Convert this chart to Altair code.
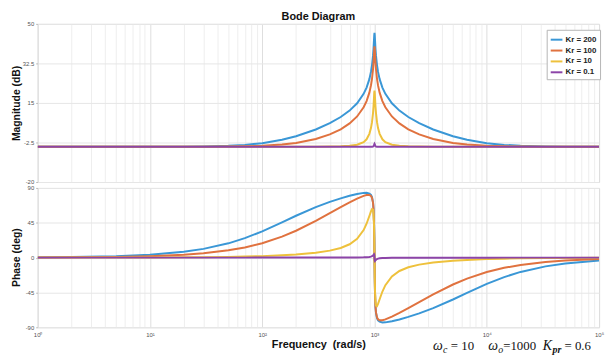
import altair as alt
import pandas as pd

# Frequencies (rad/s) sampled along the curves
freq = [1, 2, 5, 10, 20, 30, 50, 70, 100, 150, 200, 300, 400, 500, 600, 700,
        800, 850, 900, 930, 950, 970, 980, 990, 995, 1000,
        1005, 1010, 1020, 1031, 1053, 1075, 1111, 1176, 1250, 1429, 1667, 2000,
        2500, 3333, 5000, 6667, 10000, 14286, 20000, 33333, 50000, 100000]

series = ["Kr = 200", "Kr = 100", "Kr = 10", "Kr = 0.1"]
colors = ["#3a97d6", "#e0723f", "#eec13c", "#8c44a8"]

mag_200 = [-4.437, -4.436, -4.432, -4.418, -4.360, -4.265, -3.974, -3.569, -2.805, -1.314, 0.247, 3.241,
           6.031, 8.758, 11.614, 14.866, 19.014, 21.785, 25.543, 28.745, 31.681, 35.927, 38.986, 43.014,
           45.073, 46.047,
           45.073, 43.014, 38.986, 35.927, 31.681, 28.745, 25.543, 21.785, 19.014, 14.866, 11.614, 8.758,
           6.031, 3.241, 0.247, -1.314, -2.805, -3.569, -3.974, -4.265, -4.360, -4.418]
mag_100 = [-4.437, -4.437, -4.436, -4.432, -4.418, -4.393, -4.316, -4.202, -3.965, -3.417, -2.711, -0.969,
           1.065, 3.342, 5.929, 9.020, 13.077, 15.820, 19.561, 22.756, 25.689, 29.933, 32.992, 37.020,
           39.079, 40.052,
           39.079, 37.020, 32.992, 29.933, 25.689, 22.756, 19.561, 15.820, 13.077, 9.020, 5.929, 3.342,
           1.065, -0.969, -2.711, -3.417, -3.965, -4.202, -4.316, -4.393, -4.418, -4.432]
mag_10 = [-4.437, -4.437, -4.437, -4.437, -4.437, -4.437, -4.436, -4.434, -4.431, -4.424, -4.413, -4.378,
          -4.316, -4.203, -3.986, -3.523, -2.360, -1.086, 1.323, 3.880, 6.491, 10.513, 13.502, 17.488,
          19.536, 20.506,
          19.536, 17.488, 13.502, 10.513, 6.491, 3.880, 1.323, -1.086, -2.360, -3.523, -3.986, -4.203,
          -4.316, -4.378, -4.413, -4.424, -4.431, -4.434, -4.436, -4.437, -4.437, -4.437]
mag_01 = [-4.437, -4.437, -4.437, -4.437, -4.437, -4.437, -4.437, -4.437, -4.437, -4.437, -4.437, -4.437,
          -4.437, -4.437, -4.437, -4.436, -4.434, -4.431, -4.424, -4.408, -4.380, -4.287, -4.139, -3.719,
          -3.336, -3.098,
          -3.336, -3.719, -4.139, -4.287, -4.380, -4.408, -4.424, -4.431, -4.434, -4.436, -4.437, -4.437,
          -4.437, -4.437, -4.437, -4.437, -4.437, -4.437, -4.437, -4.437, -4.437, -4.437]

ph_200 = [0.382, 0.764, 1.909, 3.814, 7.595, 11.32, 18.47, 25.11, 33.92, 45.56, 54.09, 65.22,
          72.02, 76.59, 79.86, 82.21, 83.61, 83.70, 82.78, 80.92, 78.09, 71.31, 63.32, 44.97,
          26.54, 0.0,
          -26.54, -44.97, -63.32, -71.31, -78.09, -80.92, -82.78, -83.70, -83.61, -82.21, -79.86, -76.59,
          -72.02, -65.22, -54.09, -45.56, -33.92, -25.11, -18.47, -11.32, -7.595, -3.814]
ph_100 = [0.191, 0.382, 0.955, 1.909, 3.814, 5.715, 9.484, 13.19, 18.60, 27.06, 34.70, 47.50,
          57.40, 65.14, 71.28, 76.17, 79.81, 80.93, 80.99, 79.68, 77.22, 70.79, 62.98, 44.80,
          26.45, 0.0,
          -26.45, -44.80, -62.98, -70.79, -77.22, -79.68, -80.99, -80.93, -79.81, -76.17, -71.28, -65.14,
          -57.40, -47.50, -34.70, -27.06, -18.60, -13.19, -9.484, -5.715, -3.814, -1.909]
ph_10 = [0.019, 0.038, 0.095, 0.191, 0.382, 0.573, 0.957, 1.343, 1.928, 2.928, 3.971, 6.266,
         9.005, 12.49, 17.25, 24.30, 35.60, 43.76, 53.73, 59.81, 62.78, 62.05, 57.14, 41.88,
         25.00, 0.0,
         -25.00, -41.88, -57.14, -62.05, -62.78, -59.81, -53.73, -43.76, -35.60, -24.30, -17.25, -12.49,
         -9.005, -6.266, -3.971, -2.928, -1.928, -1.343, -0.957, -0.573, -0.382, -0.191]
ph_01 = [0.0002, 0.0004, 0.001, 0.002, 0.004, 0.006, 0.010, 0.013, 0.019, 0.029, 0.040, 0.063,
         0.091, 0.127, 0.179, 0.262, 0.423, 0.582, 0.895, 1.286, 1.781, 2.782, 3.671, 4.40,
         3.372, 0.0,
         -3.372, -4.40, -3.671, -2.782, -1.781, -1.286, -0.895, -0.582, -0.423, -0.262, -0.179, -0.127,
         -0.091, -0.063, -0.040, -0.029, -0.019, -0.013, -0.010, -0.006, -0.004, -0.002]

mags = [mag_200, mag_100, mag_10, mag_01]
phases = [ph_200, ph_100, ph_10, ph_01]

mag_ticks = [-20, -2.5, 15, 32.5, 50]
phase_ticks = [-90, -45, 0, 45, 90]
decades = [1, 10, 100, 1000, 10000, 100000]
x_grid = [k * 10 ** e for e in range(5) for k in range(1, 10)] + [100000]

rows = []
for s, m_list, p_list in zip(series, mags, phases):
    for f, m, p in zip(freq, m_list, p_list):
        rows.append({"freq": f, "mag": m, "phase": p, "series": s})
df = pd.DataFrame(rows)

FONT = "Liberation Sans"
is_decade = "indexof([1,10,100,1000,10000,100000], datum.value) >= 0"
grid_color = {"condition": {"test": is_decade, "value": "#dedede"}, "value": "#eeeeee"}
label_expr = ("datum.value == 1 ? '10⁰' : datum.value == 10 ? '10¹' : datum.value == 100 ? '10²' : "
              "datum.value == 1000 ? '10³' : datum.value == 10000 ? '10⁴' : datum.value == 100000 ? '10⁵' : ''")

xscale = alt.Scale(type="log", domain=[1, 100000])
color = alt.Color("series:N", scale=alt.Scale(domain=series, range=colors),
                  legend=alt.Legend(orient="none", legendX=515, legendY=6, title=None,
                                    fillColor="white", strokeColor="#b5b5b5", padding=3,
                                    symbolType="stroke", symbolStrokeWidth=2, symbolSize=140,
                                    labelFontSize=8, labelFontWeight="bold", labelFont=FONT,
                                    labelColor="#222", rowPadding=0, labelOffset=2))

yaxis_common = dict(labelFontSize=6, labelColor="#555", labelFont=FONT, tickSize=2, tickColor="#bbb",
                    domain=False, gridColor="#e6e6e6", titleFont=FONT, titleFontSize=10.5,
                    titleFontWeight="bold", titleColor="#111", titleX=-21, titleBaseline="middle",
                    labelPadding=2, labelExpr="'' + datum.value")

lines_top = alt.Chart(df).mark_line(strokeWidth=2, clip=True).encode(
    x=alt.X("freq:Q", scale=xscale,
            axis=alt.Axis(values=x_grid, labels=False, ticks=False, domain=False, title=None,
                          gridColor=grid_color)),
    y=alt.Y("mag:Q", scale=alt.Scale(domain=[-20, 50], nice=False, zero=False),
            axis=alt.Axis(values=mag_ticks, title="Magnitude (dB)", titleY=80, **yaxis_common)),
    color=color,
)


def ann(text, x, y, size, style="normal", weight="normal", font="Liberation Serif", align="left"):
    return alt.Chart(pd.DataFrame({"t": [text]})).mark_text(
        align=align, baseline="alphabetic", font=font, fontSize=size,
        fontStyle=style, fontWeight=weight, color="#111"
    ).encode(x=alt.value(x), y=alt.value(y), text="t:N")


title_text = ann("Bode Diagram", 284, -4, 11, "normal", "bold", FONT, "center")

top = alt.layer(lines_top, title_text).properties(width=568, height=160)

lines_bottom = alt.Chart(df).mark_line(strokeWidth=2, clip=True).encode(
    x=alt.X("freq:Q", scale=xscale,
            axis=alt.Axis(values=x_grid, labelExpr=label_expr, labelOverlap=False, labelFlush=False,
                          labelFontSize=6, labelColor="#555", labelFont=FONT, ticks=False,
                          domain=False, labelPadding=4, gridColor=grid_color,
                          title="Frequency\u00a0 (rad/s)", titleFont=FONT, titleFontSize=11,
                          titleFontWeight="bold", titleColor="#111", titleY=20,
                          titleBaseline="alphabetic")),
    y=alt.Y("phase:Q", scale=alt.Scale(domain=[-90, 90], nice=False, zero=False),
            axis=alt.Axis(values=phase_ticks, title="Phase (deg)", titleY=70, **yaxis_common)),
    color=alt.Color("series:N", scale=alt.Scale(domain=series, range=colors), legend=None),
)

base_y = 164
annots = [
    ann("ω", 400, base_y, 14, "italic"),
    ann("c", 410, base_y + 3, 10, "italic"),
    ann("= 10", 418, base_y, 13),
    ann("ω", 456, base_y, 14, "italic"),
    ann("o", 466, base_y + 3, 10, "italic"),
    ann("=1000", 471, base_y, 13),
    ann("K", 511, base_y, 14, "italic"),
    ann("pr", 521, base_y + 3, 10, "italic", "bold"),
    ann("= 0.6", 533, base_y, 13),
]

bottom = alt.layer(lines_bottom, *annots).properties(width=568, height=141)

chart = alt.vconcat(top, bottom, spacing=6, bounds="flush").properties(
    padding={"left": 3, "top": 0, "right": 0, "bottom": 0}
).configure_view(stroke="#cccccc", strokeWidth=1).configure(background="white")

chart.save("out.html", embed_options={"renderer": "svg", "actions": False})
